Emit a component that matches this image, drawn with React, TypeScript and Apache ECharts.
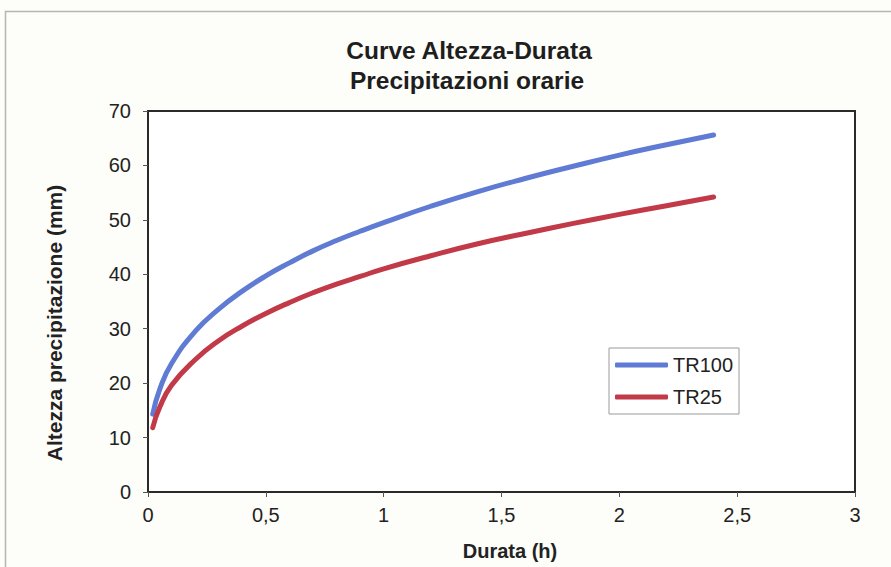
import React, { useEffect, useRef } from "react";
import * as echarts from "echarts";

const durations = [0.02, 0.05, 0.1, 0.2, 0.3, 0.4, 0.5, 0.6, 0.7, 0.8, 0.9, 1.0, 1.2, 1.4, 1.6, 1.8, 2.0, 2.2, 2.4];
const tr100 = [14.3, 18.9, 23.6, 29.5, 33.6, 36.9, 39.7, 42.1, 44.3, 46.2, 47.9, 49.5, 52.5, 55.2, 57.6, 59.8, 61.9, 63.8, 65.6];
const tr25 = [11.8, 15.6, 19.6, 24.3, 27.8, 30.5, 32.8, 34.8, 36.6, 38.2, 39.6, 41.0, 43.4, 45.6, 47.5, 49.3, 51.0, 52.6, 54.2];
const seriesNames = ["TR100", "TR25"];
const titleLines = ["Curve Altezza-Durata", "Precipitazioni orarie"];
const xName = "Durata (h)";
const yName = "Altezza precipitazione (mm)";

const FONT = "'Liberation Sans', Arial, Helvetica, sans-serif";

export default function App() {
  const ref = useRef<HTMLDivElement>(null);
  useEffect(() => {
    if (!ref.current) return;
    const chart = echarts.init(ref.current, undefined, { renderer: "svg" });
    const pairs = (ys: number[]) => durations.map((t, i) => [t, ys[i]]);
    chart.setOption({
      animation: false,
      backgroundColor: "#fdfdf9",
      textStyle: { fontFamily: FONT },
      grid: {
        left: 148,
        right: 36,
        top: 111,
        bottom: 75,
        show: true,
        borderColor: "#2a2a2a",
        borderWidth: 2,
        backgroundColor: "#ffffff",
      },
      legend: {
        orient: "vertical",
        left: 609,
        top: 348,
        padding: [7, 6, 7, 6],
        itemWidth: 53,
        itemHeight: 5,
        itemGap: 12,
        icon: "roundRect",
        borderColor: "#9a9a9a",
        borderWidth: 1,
        backgroundColor: "#ffffff",
        textStyle: { fontFamily: FONT, fontSize: 20, color: "#222", padding: [0, 0, 0, 0] },
        data: seriesNames,
      },
      xAxis: {
        type: "value",
        min: 0,
        max: 3,
        interval: 0.5,
        axisLine: { show: true, lineStyle: { color: "#2a2a2a", width: 2 } },
        axisTick: { show: true, length: 5, lineStyle: { color: "#555" } },
        splitLine: { show: false },
        axisLabel: {
          margin: 13,
          fontSize: 20,
          color: "#222",
          fontFamily: FONT,
          formatter: (v: number) => String(v).replace(".", ","),
        },
      },
      yAxis: {
        type: "value",
        min: 0,
        max: 70,
        interval: 10,
        axisLine: { show: true, lineStyle: { color: "#2a2a2a", width: 2 } },
        axisTick: { show: true, length: 5, lineStyle: { color: "#555" } },
        splitLine: { show: false },
        axisLabel: { margin: 17, fontSize: 20, color: "#222", fontFamily: FONT },
      },
      graphic: [
        {
          type: "rect",
          z: -10,
          silent: true,
          shape: { x: 5.5, y: 11.5, width: 1000, height: 1000 },
          style: { fill: "none", stroke: "#b5b5b5", lineWidth: 1.5 },
        },
        {
          type: "text",
          x: 469,
          y: 50,
          style: {
            text: titleLines[0],
            fontFamily: FONT,
            fontSize: 24.5,
            fontWeight: "bold",
            fill: "#1e1e1e",
            align: "center",
            verticalAlign: "middle",
          },
        },
        {
          type: "text",
          x: 467,
          y: 80,
          style: {
            text: titleLines[1],
            fontFamily: FONT,
            fontSize: 24.5,
            fontWeight: "bold",
            fill: "#1e1e1e",
            align: "center",
            verticalAlign: "middle",
          },
        },
        {
          type: "text",
          x: 510,
          y: 551,
          style: {
            text: xName,
            fontFamily: FONT,
            fontSize: 20,
            fontWeight: "bold",
            fill: "#222",
            align: "center",
            verticalAlign: "middle",
          },
        },
        {
          type: "text",
          x: 54,
          y: 323,
          rotation: Math.PI / 2,
          style: {
            text: yName,
            fontFamily: FONT,
            fontSize: 21,
            fontWeight: "bold",
            fill: "#222",
            align: "center",
            verticalAlign: "middle",
          },
        },
      ],
      series: [
        {
          name: seriesNames[0],
          type: "line",
          data: pairs(tr100),
          smooth: true,
          symbol: "none",
          lineStyle: { color: "#5f7bd3", width: 5, cap: "round", join: "round" },
          itemStyle: { color: "#5f7bd3" },
        },
        {
          name: seriesNames[1],
          type: "line",
          data: pairs(tr25),
          smooth: true,
          symbol: "none",
          lineStyle: { color: "#c23a48", width: 5, cap: "round", join: "round" },
          itemStyle: { color: "#c23a48" },
        },
      ],
    });
    return () => chart.dispose();
  }, []);
  return (
    <div
      ref={ref}
      style={{ position: "fixed", left: 0, top: 0, width: 891, height: 567 }}
    />
  );
}
